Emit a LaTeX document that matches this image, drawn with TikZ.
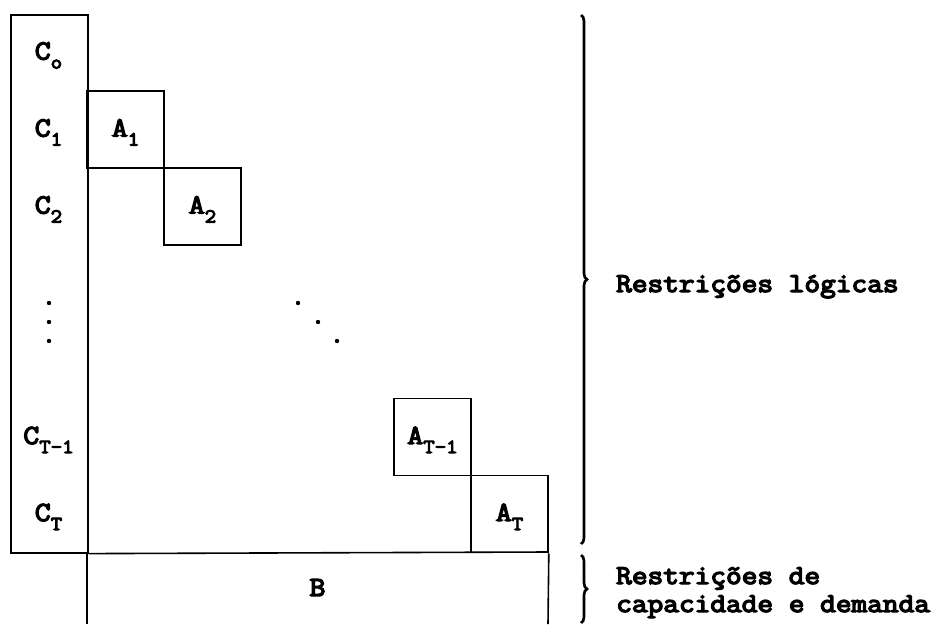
\documentclass[tikz,border=0pt]{standalone}
\usepackage{fontspec}
\usetikzlibrary{decorations.pathreplacing}
% heavy, slightly widened typewriter face for all labels
\newfontfamily\heavymono{Latin Modern Mono}[FakeBold=5,FakeStretch=1.12]
\newcommand\cellfont{\heavymono\fontsize{27.6}{30}\selectfont}
\newcommand\notefont{\heavymono\fontsize{27.2}{28}\selectfont}
\newcommand\lowidx[1]{\raisebox{-9pt}{\heavymono\fontsize{19.9}{22}\selectfont #1}}
\begin{document}
\begin{tikzpicture}[x=1pt,y=-1pt,
  frame/.style={line width=1.6pt},
  blk/.style={draw,line width=1.6pt,minimum width=77pt,minimum height=77pt,inner sep=0pt},
  lbl/.style={font=\cellfont,inner sep=0pt,anchor=base},
  br/.style={decorate,decoration={brace,amplitude=6pt},line width=2.6pt},
  note/.style={anchor=base west,font=\notefont,inner sep=0pt,align=left},
  dot/.style={circle,fill,inner sep=0pt,minimum size=4.4pt}]
\useasboundingbox (0,0) rectangle (939,624);

% column of coupling blocks C
\node[draw,frame,minimum width=77pt,minimum height=538pt,inner sep=0pt,anchor=north west] (ccol) at (10,14) {};

% diagonal blocks A
\node[blk] (a1) at (125.5,129.5) {};
\node[blk] (a2) at (202.5,206.5) {};
\node[blk] (atm) at (432.5,437) {};
\node[blk] (at) at (509.5,514) {};

% bottom block B
\coordinate (bl) at (87,552);
\coordinate (br) at (548,552);
\coordinate (bbl) at (87,624);
\coordinate (bbr) at (548,624);
\draw[frame] (ccol.south east) -- (br);
\draw[frame] (bl) -- (bbl);
\draw[frame] (at.south east) -- (bbr);

% row labels
\node[lbl] (c0) at (48.5,59.5) {C\lowidx{o}};
\node[lbl] (c1) at (48.5,136.5) {C\lowidx{1}};
\node[lbl] (c2) at (48.5,213.5) {C\lowidx{2}};
\node[lbl] (ctm) at (48.5,444) {C\lowidx{T-1}};
\node[lbl] (ct) at (48.5,521) {C\lowidx{T}};

\node[lbl] at ([yshift=-7pt]a1.center) {A\lowidx{1}};
\node[lbl] at ([yshift=-7pt]a2.center) {A\lowidx{2}};
\node[lbl] at ([yshift=-7pt]atm.center) {A\lowidx{T-1}};
\node[lbl] at ([yshift=-7pt]at.center) {A\lowidx{T}};
\node[lbl] (b) at (317.5,596) {B};

% ellipses
\node[dot] (v1) at (49,303) {};
\node[dot] (v2) at (49,322) {};
\node[dot] (v3) at (49,341) {};
\node[dot] (d1) at (298,303) {};
\node[dot] (d2) at (318,322) {};
\node[dot] (d3) at (337,341) {};

% braces and their notes
\coordinate (b1t) at (581,15);
\coordinate (b1b) at (581,544);
\coordinate (b2t) at (581,555);
\coordinate (b2b) at (581,623);
\draw[br] (b1t) -- (b1b);
\draw[br] (b2t) -- (b2b);
\node[note] (n1) at (616,292) {Restrições lógicas};
\node[note] (n2) at (616,584) {Restrições de};
\node[note] (n3) at (616,612) {capacidade e demanda};
\end{tikzpicture}
\end{document}
